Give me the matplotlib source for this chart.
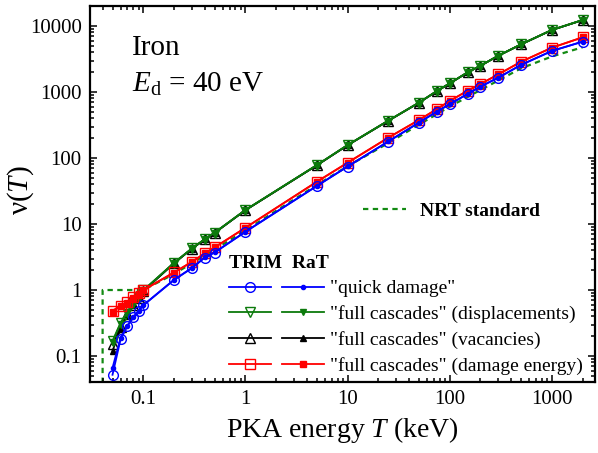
import matplotlib
matplotlib.use('Agg')
import matplotlib.pyplot as plt
from matplotlib.legend_handler import HandlerTuple
from matplotlib.lines import Line2D

plt.rcParams['font.family'] = ['Liberation Serif', 'DejaVu Serif']
plt.rcParams['mathtext.fontset'] = 'custom'
plt.rcParams['mathtext.rm'] = 'Liberation Serif'
plt.rcParams['mathtext.it'] = 'Liberation Serif:italic'

# PKA energies (keV)
T = [0.05, 0.06, 0.07, 0.08, 0.09, 0.1, 0.2, 0.3, 0.4, 0.5, 1, 5, 10, 25,
     50, 75, 100, 150, 200, 300, 500, 1000, 2000]

# number of defects nu(T)
quick_trim = [0.052, 0.18, 0.285, 0.385, 0.48, 0.585, 1.42, 2.15, 3.1, 3.7, 7.6,
              37.6, 74, 177, 343, 504, 651, 933, 1204, 1648, 2566, 4175, 5780]
quick_rat = [0.066, 0.19, 0.29, 0.39, 0.485, 0.59, 1.43, 2.17, 3.12, 3.72, 7.65,
             37.8, 74.5, 178, 345, 506, 655, 938, 1210, 1655, 2580, 4190, 5800]
disp_trim = [0.169, 0.32, 0.47, 0.63, 0.79, 0.99, 2.59, 4.28, 5.9, 7.4, 16.3,
             78, 157, 367, 689, 1035, 1350, 1987, 2500, 3550, 5270, 8700, 12300]
disp_rat = [0.165, 0.31, 0.46, 0.62, 0.78, 0.98, 2.57, 4.26, 5.9, 7.4, 16.3,
            78, 157, 367, 690, 1035, 1350, 1990, 2500, 3550, 5280, 8700, 12350]
vac_trim = [0.15, 0.28, 0.44, 0.6, 0.77, 0.97, 2.55, 4.25, 5.85, 7.35, 16.2,
            77.5, 156, 366, 688, 1033, 1348, 1985, 2498, 3548, 5265, 8690, 12280]
vac_rat = [0.119, 0.26, 0.42, 0.59, 0.76, 0.96, 2.54, 4.24, 5.85, 7.35, 16.2,
           77.5, 156, 366, 688, 1033, 1348, 1985, 2498, 3548, 5265, 8690, 12280]
dam_trim = [0.486, 0.58, 0.65, 0.776, 0.89, 1.0, 1.85, 2.68, 3.6, 4.43, 8.79,
            43.7, 84.9, 203, 377, 552, 731, 1047, 1320, 1855, 2878, 4690, 6740]
dam_rat = [0.47, 0.57, 0.64, 0.77, 0.88, 0.99, 1.84, 2.67, 3.6, 4.42, 8.75,
           43.5, 84.5, 202, 376, 551, 730, 1045, 1318, 1850, 2870, 4680, 6720]

# NRT standard
T_nrt = [0.04, 0.04, 0.1, 0.2, 0.5, 1, 5, 10, 25, 50, 100, 200, 500, 1000, 2000]
nu_nrt = [0.01, 1.0, 1.0, 1.75, 4.1, 8.0, 39, 75, 168, 320, 600, 1072, 2285, 3450, 4760]

BLUE = '#0000ff'
GREEN = '#0c7a0c'
BLACK = '#000000'
RED = '#ff0000'
NRT_GREEN = '#138a13'

fig = plt.figure(figsize=(5.98, 4.53), dpi=100)
ax = fig.add_axes([90/598, 1 - 382/453, 505/598, 376/453])

ax.plot(T_nrt, nu_nrt, color=NRT_GREEN, lw=1.6, dashes=(2.4, 2.0), zorder=1)

series = [
    (vac_trim, vac_rat, BLACK, '^', 7, 4.5, '"full cascades" (vacancies)'),
    (disp_trim, disp_rat, GREEN, 'v', 7, 4.5, '"full cascades" (displacements)'),
    (dam_trim, dam_rat, RED, 's', 6.5, 4.5, '"full cascades" (damage energy)'),
    (quick_trim, quick_rat, BLUE, 'o', 7, 3, '"quick damage"'),
]
handles = {}
for trim, rat, c, m, s1, s2, lab in series:
    h1, = ax.plot(T, trim, color=c, lw=1.3, marker=m, ms=s1, mfc='none',
                  mec=c, mew=1.0)
    h2, = ax.plot(T, rat, color=c, lw=1.3, marker=m, ms=s2, mfc=c, mec=c)
    handles[lab] = (h1, h2)

ax.set_xscale('log')
ax.set_yscale('log')
ax.set_xlim(0.0301, 2650)
ax.set_ylim(0.0404, 20100)
ax.set_xticks([0.1, 1, 10, 100, 1000])
ax.set_xticklabels(['0.1', '1', '10', '100', '1000'])
ax.set_yticks([0.1, 1, 10, 100, 1000, 10000])
ax.set_yticklabels(['0.1', '1', '10', '100', '1000', '10000'])

ax.tick_params(which='both', direction='in', top=True, right=True, width=1.1,
               labelsize=15)
ax.tick_params(which='major', length=5, pad=6)
ax.tick_params(which='minor', length=3)
for sp in ax.spines.values():
    sp.set_linewidth(1.6)

ax.set_xlabel('PKA energy $T$ (keV)', fontsize=20, labelpad=4)
ax.set_ylabel('ν($T$)', fontsize=21)
ax.yaxis.set_label_coords(-0.106, 0.51)

ax.text(0.0826, 0.8697, 'Iron', transform=ax.transAxes, fontsize=21,
        va='baseline', ha='left')
ax.text(0.0826, 0.772, r'$E_\mathrm{d}$ = 40 eV', transform=ax.transAxes,
        fontsize=21, va='baseline', ha='left')

order = ['"quick damage"', '"full cascades" (displacements)',
         '"full cascades" (vacancies)', '"full cascades" (damage energy)']
leg = ax.legend([handles[k] for k in order], order,
                handler_map={tuple: HandlerTuple(ndivide=None, pad=0.6)},
                loc='upper left', bbox_to_anchor=(229/598, 1 - 255/453),
                bbox_transform=fig.transFigure, frameon=False, fontsize=14,
                handlelength=4.9, handletextpad=0.3, labelspacing=0.4,
                borderpad=0, borderaxespad=0, numpoints=1,
                title='TRIM  RaT', title_fontproperties={'weight': 'bold', 'size': 14},
                alignment='left')
ax.add_artist(leg)

nrt_handle = Line2D([], [], color=NRT_GREEN, lw=1.6, dashes=(2.4, 2.0))
ax.legend([nrt_handle], ['NRT standard'], loc='center left',
          bbox_to_anchor=(363/598, 1 - 211/453), bbox_transform=fig.transFigure,
          frameon=False, prop={'weight': 'bold', 'size': 14},
          handlelength=2.2, handletextpad=0.75, borderpad=0, borderaxespad=0)

fig.savefig('out.png', dpi=100)
